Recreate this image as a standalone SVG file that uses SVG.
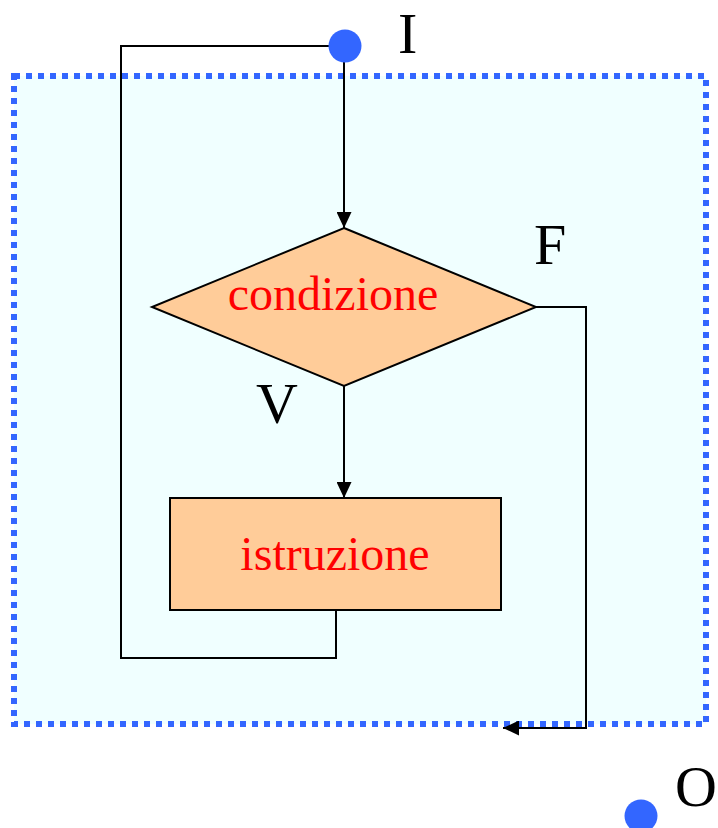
<svg xmlns="http://www.w3.org/2000/svg" width="718" height="828" viewBox="0 0 718 828">
<style>
.ln{fill:none;stroke:#000;stroke-width:2}
.shape{fill:#FFCC99;stroke:#000;stroke-width:2}
.lbl{font-family:"Liberation Serif",serif;fill:#FF0000;font-size:48px;text-anchor:middle}
.big{font-family:"Liberation Serif",serif;fill:#000;font-size:58px}
.dot{fill:#3366FF}
</style>
<defs>
<marker id="ah" markerWidth="16" markerHeight="15" refX="16" refY="7.5" orient="auto" markerUnits="userSpaceOnUse">
<path d="M0,0 L16,7.5 L0,15 Z" fill="#000"/>
</marker>
</defs>
<g id="frame">
<rect x="14" y="76" width="692" height="648" fill="#F0FFFF" stroke="#3366FF" stroke-width="6" stroke-dasharray="6 6"/>
</g>
<g id="connectors">
<polyline class="ln" points="330,46 121,46 121,658 336,658 336,610"/>
<line class="ln" x1="344" y1="60" x2="344" y2="228" marker-end="url(#ah)"/>
<line class="ln" x1="344" y1="386" x2="344" y2="498" marker-end="url(#ah)"/>
<polyline class="ln" points="536,307 586,307 586,728 503,728" marker-end="url(#ah)"/>
</g>
<g id="start">
<circle class="dot" cx="345" cy="46" r="16.5"/>
<text class="big" x="398" y="53">I</text>
</g>
<g id="condition">
<polygon class="shape" points="344,228 536,307 344,386 152,307"/>
<text class="lbl" x="333" y="310">condizione</text>
</g>
<g id="instruction">
<rect class="shape" x="170" y="498" width="331" height="112"/>
<text class="lbl" x="335" y="570">istruzione</text>
</g>
<g id="labels">
<text class="big" x="534" y="264">F</text>
<text class="big" x="256" y="423">V</text>
</g>
<g id="end">
<circle class="dot" cx="641" cy="816" r="16.5"/>
<text class="big" x="675" y="806">O</text>
</g>
</svg>
